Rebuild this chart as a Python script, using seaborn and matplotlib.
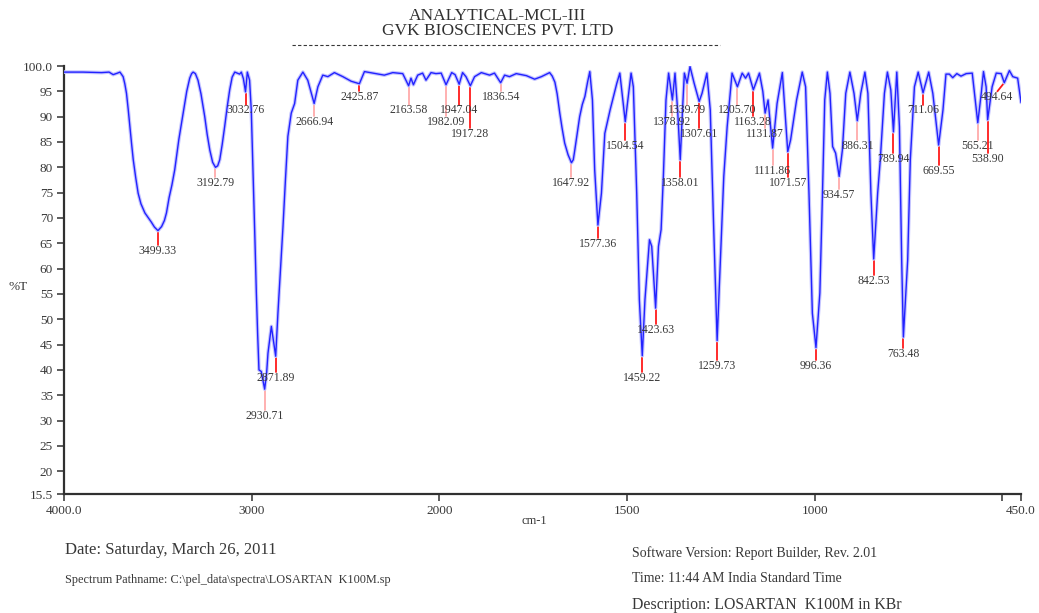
import numpy as np
import pandas as pd
import matplotlib
matplotlib.use("Agg")
import matplotlib.pyplot as plt
from matplotlib.lines import Line2D
import seaborn as sns

# ---- spectrum trace (wavenumber, %T) ----
wavenumber = [
    4000, 3900, 3800, 3760, 3738, 3715, 3702, 3685, 3676, 3667, 3658, 3649, 3640, 3631,
    3618, 3605, 3590, 3569, 3550, 3535, 3518, 3499.33, 3480, 3465, 3454, 3440, 3425, 3410,
    3388, 3365, 3346, 3330, 3320, 3312, 3300, 3286, 3270, 3250, 3237, 3223, 3208, 3192.79,
    3181, 3170, 3157, 3144, 3130, 3117, 3104, 3090, 3064, 3055, 3044, 3032.76, 3023, 3011,
    3002, 2996, 2989, 2982, 2975, 2968, 2961, 2949, 2930.71, 2920, 2913, 2895, 2871.89,
    2860, 2850, 2842, 2833, 2820, 2807, 2789, 2771, 2754, 2727, 2701, 2666.94, 2647,
    2621, 2594, 2559, 2514, 2470, 2425.87, 2399, 2337, 2293, 2248, 2195, 2163.58, 2151,
    2138, 2115, 2089, 2071, 2044, 2018, 1995, 1982.09, 1967, 1958, 1947.04, 1938, 1929,
    1917.28, 1906, 1888, 1866, 1853, 1836.54, 1826, 1813, 1795, 1768, 1746, 1728, 1706,
    1699, 1692, 1686, 1679, 1673, 1666, 1657, 1647.92, 1643, 1639, 1632, 1626, 1619, 1612,
    1605, 1599, 1592, 1586, 1577.36, 1568, 1559,
    1545, 1527, 1519, 1504.54, 1489, 1483, 1474, 1467, 1459.22, 1452, 1440, 1434,
    1423.63, 1416, 1409, 1403, 1396, 1389, 1378.92, 1372, 1365, 1358.01, 1352, 1347,
    1339.79, 1332, 1321, 1307.61, 1300, 1287, 1278, 1269, 1259.73, 1251, 1242, 1233,
    1220, 1205.70, 1193, 1184, 1176, 1163.28, 1147, 1138, 1131.87, 1124, 1111.86, 1100,
    1086, 1071.57, 1064, 1048, 1033, 1024, 1015, 1006, 996.36, 986, 979, 973, 966, 959,
    952, 944, 934.57, 926, 917, 906, 895, 886.31, 877, 866, 858, 850, 842.53, 832, 825,
    814, 806, 797, 789.94, 781, 774, 768, 763.48, 752, 745, 734, 724, 711.06, 696, 685,
    669.55, 658, 650, 641, 632, 621, 610, 596, 580, 572, 565.21, 556, 550, 543, 538.90,
    527, 516, 503, 494.64, 481, 472, 459, 450,
]
transmittance = [
    98.8, 98.8, 98.7, 98.8, 98.3, 98.6, 98.8, 97.9, 96.5, 94.6, 91.5, 88.0, 84.7, 81.5,
    78.0, 74.9, 72.8, 71.0, 70.0, 69.2, 68.2, 67.5, 68.3, 69.5, 71.0, 74.0, 76.5, 79.5,
    85.5, 90.7, 95.0, 97.6, 98.5, 98.8, 98.5, 97.2, 94.5, 90.0, 86.5, 83.4, 81.0, 80.0,
    80.3, 81.5, 84.5, 88.0, 92.0, 95.3, 97.8, 98.8, 98.4, 98.8, 97.5, 94.9, 98.8, 97.2,
    91.3, 83.5, 74.9, 65.0, 55.2, 47.0, 40.0, 39.7, 36.2, 39.5, 43.3, 48.6, 42.7,
    51.2, 57.5, 62.5, 68.3, 77.5, 86.1, 90.7, 92.6, 97.2, 98.8, 97.2, 92.6, 95.9,
    98.2, 97.9, 98.7, 97.9, 97.0, 96.5, 98.9, 98.5, 98.2, 98.7, 98.5, 96.1, 97.6,
    96.3, 98.2, 98.6, 97.2, 98.7, 98.5, 98.6, 96.3, 98.7, 98.3, 96.4, 98.7, 97.9,
    96.1, 97.9, 98.7, 98.2, 98.6, 96.7, 98.2, 97.9, 98.5, 98.1, 97.4, 97.9, 98.7,
    98.0, 96.8, 94.5, 90.7, 87.8, 84.8, 82.5, 80.9, 81.5, 83.4, 87.0, 90.0, 92.4, 94.0,
    96.8, 98.9, 93.3, 79.5, 68.6, 74.9, 86.7,
    91.3, 96.6, 98.6, 89.0, 98.6, 95.9, 74.9, 53.9, 42.8, 53.9, 65.7, 64.4,
    52.2, 64.4, 67.7, 78.2, 93.3, 98.6, 93.3, 98.6, 91.3, 81.5, 91.3, 98.6,
    96.6, 99.9, 96.6, 93.0, 94.6, 98.6, 91.3, 68.3, 45.8, 61.7, 78.2, 88.0,
    98.6, 95.9, 98.6, 97.6, 98.6, 95.3, 98.6, 95.0, 90.7, 93.3, 83.8, 92.6,
    98.7, 83.1, 85.4, 93.3, 98.8, 95.9, 74.9, 51.2, 44.4, 55.2, 74.9, 93.3, 98.8, 94.6,
    84.1, 82.8, 78.2, 83.4, 94.6, 98.8, 94.6, 89.2, 94.6, 98.8, 94.6, 74.9, 61.9, 74.9, 81.5,
    94.6, 98.8, 95.3, 87.0, 98.8, 88.0, 61.7, 46.5, 61.7, 81.5, 95.9, 98.8, 94.7, 98.8, 94.6,
    84.4, 91.3, 98.4, 98.4, 97.7, 98.5, 98.0, 98.5, 98.6, 93.3, 88.8, 94.6, 98.9, 95.9, 89.4,
    95.9, 98.6, 98.5, 96.7, 99.1, 97.9, 97.6, 92.8,
]

# ---- labelled peaks and the %T level where each label sits ----
peak_wavenumber = [
    3499.33, 3192.79, 3032.76, 2930.71, 2871.89, 2666.94, 2425.87, 2163.58, 1982.09,
    1947.04, 1917.28, 1836.54, 1647.92, 1577.36, 1504.54, 1459.22, 1423.63, 1378.92,
    1358.01, 1339.79, 1307.61, 1259.73, 1205.70, 1163.28, 1131.87, 1111.86, 1071.57,
    996.36, 934.57, 886.31, 842.53, 789.94, 763.48, 711.06, 669.55, 565.21, 538.90, 494.64,
]
label_level = [
    63.5, 76.9, 91.3, 31.0, 38.5, 89.0, 93.9, 91.3, 89.0,
    91.3, 86.6, 93.9, 76.9, 64.9, 84.2, 38.5, 47.9, 89.0,
    76.9, 91.3, 86.6, 40.8, 91.3, 89.0, 86.6, 79.3, 76.9,
    40.8, 74.6, 84.2, 57.6, 81.7, 43.2, 91.3, 79.3, 84.2, 81.7, 93.9,
]
label_shift = {494.64: 513.0}
faint_markers = {3192.79, 2930.71, 2666.94, 2163.58, 1982.09, 1836.54, 1647.92,
                 1378.92, 1339.79, 1205.70, 1131.87, 1111.86, 934.57, 886.31, 565.21}

x_ticks = [4000, 3000, 2000, 1500, 1000, 500, 450]
x_tick_labels = ["4000.0", "3000", "2000", "1500", "1000", "", "450.0"]
y_ticks = [15.5, 20, 25, 30, 35, 40, 45, 50, 55, 60, 65, 70, 75, 80, 85, 90, 95, 100]
y_tick_labels = ["15.5"] + [str(v) for v in y_ticks[1:-1]] + ["100.0"]

sns.set_theme(style="white")
plt.rcParams["font.family"] = ["Liberation Serif", "DejaVu Serif"]
TEXT = "#383838"

df = pd.DataFrame({"wavenumber": wavenumber, "T": transmittance})

fig = plt.figure(figsize=(10.39, 6.13), dpi=100)
ax = fig.add_axes([0.0616, 0.1941, 0.9211, 0.6982])


# the region below 2000 cm-1 is drawn at twice the scale of the region above
def fwd(x):
    x = np.asarray(x, dtype=float)
    return np.where(x >= 2000, x, 2000 + (x - 2000) * 2.0)


def inv(y):
    y = np.asarray(y, dtype=float)
    return np.where(y >= 2000, y, 2000 + (y - 2000) / 2.0)


ax.set_xscale("function", functions=(fwd, inv))

sns.lineplot(data=df, x="wavenumber", y="T", sort=False, estimator=None,
             color="#c4c4ff", linewidth=2.6, ax=ax, zorder=3)
sns.lineplot(data=df, x="wavenumber", y="T", sort=False, estimator=None,
             color="#2222ff", linewidth=1.0, ax=ax, zorder=4)

wn_rev = np.asarray(wavenumber)[::-1]
t_rev = np.asarray(transmittance)[::-1]
for wn, lvl in zip(peak_wavenumber, label_level):
    t_peak = float(np.interp(wn, wn_rev, t_rev))
    lx = label_shift.get(wn, wn)
    col = "#ffaaaa" if wn in faint_markers else "#ff1a1a"
    ax.plot([wn, lx], [t_peak, lvl + 1.1], color=col, linewidth=1.3, zorder=2)
    ax.text(lx, lvl, f"{wn:.2f}", ha="center", va="center", fontsize=8.5,
            color=TEXT, zorder=5)

ax.set_xlim(4000, 450)
ax.set_ylim(15.5, 100)
ax.set_xticks(x_ticks)
ax.set_xticklabels(x_tick_labels)
ax.set_yticks(y_ticks)
ax.set_yticklabels(y_tick_labels)
ax.set_xlabel("")
ax.set_ylabel("")
ax.tick_params(axis="both", direction="out", length=5, width=1.1, colors="#303030",
               labelcolor=TEXT, labelsize=9.5, bottom=True, left=True, pad=3)
sns.despine(ax=ax)
for side in ("left", "bottom"):
    ax.spines[side].set_color("#303030")
    ax.spines[side].set_linewidth(1.6)
ax.grid(False)

fig.text(18 / 1039, 1 - 287 / 613, "%T", fontsize=9.5, ha="center", va="center", color=TEXT)
fig.text(534 / 1039, 1 - 521 / 613, "cm-1", fontsize=9, ha="center", va="center", color=TEXT)

# report header
fig.text(497 / 1039, 1 - 16 / 613, "ANALYTICAL-MCL-III", fontsize=12.5, ha="center",
         va="center", color="#303030")
fig.text(498 / 1039, 1 - 31 / 613, "GVK BIOSCIENCES PVT. LTD", fontsize=12.5, ha="center",
         va="center", color="#303030")
fig.add_artist(Line2D([292 / 1039, 720 / 1039], [1 - 45 / 613, 1 - 45 / 613],
                      transform=fig.transFigure, color=TEXT, linewidth=0.8,
                      linestyle=(0, (3, 2))))

# report footer
fig.text(65 / 1039, 1 - 550 / 613, "Date: Saturday, March 26, 2011", fontsize=12,
         va="center", color=TEXT)
fig.text(65 / 1039, 1 - 580 / 613, "Spectrum Pathname: C:\\pel_data\\spectra\\LOSARTAN  K100M.sp",
         fontsize=8.85, va="center", color=TEXT)
fig.text(632 / 1039, 1 - 553 / 613, "Software Version: Report Builder, Rev. 2.01",
         fontsize=10, va="center", color=TEXT)
fig.text(632 / 1039, 1 - 578 / 613, "Time: 11:44 AM India Standard Time",
         fontsize=10, va="center", color=TEXT)
fig.text(632 / 1039, 1 - 605 / 613, "Description: LOSARTAN  K100M in KBr",
         fontsize=11.4, va="center", color=TEXT)

fig.savefig("out.png", dpi=100, facecolor="white")
